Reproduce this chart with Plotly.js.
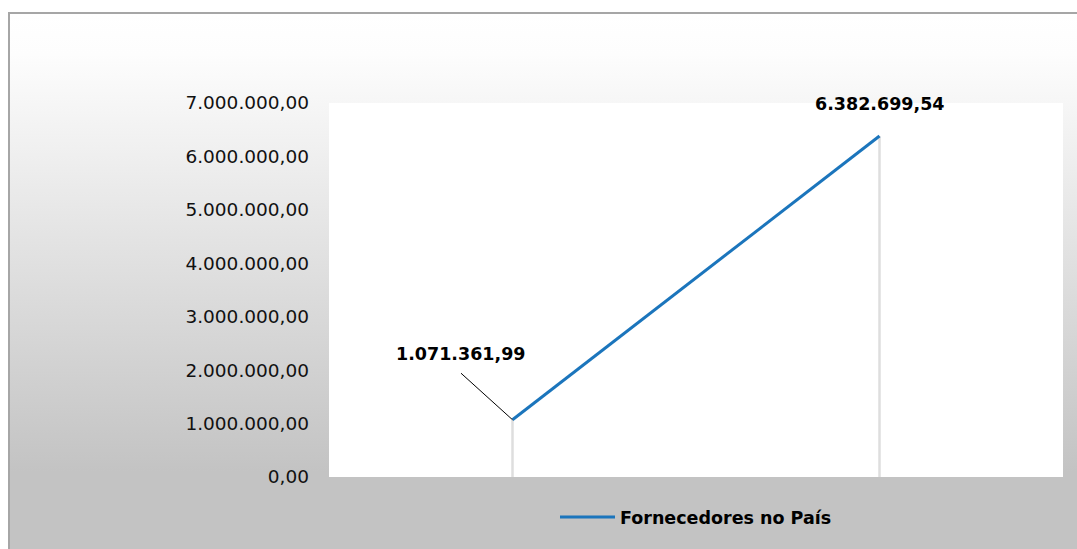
<!DOCTYPE html>
<html>
<head>
<meta charset="utf-8">
<script src="https://cdn.plot.ly/plotly-3.0.1.min.js"></script>
<style>
  html, body { margin: 0; padding: 0; background: #ffffff; }
  #wrap { position: relative; width: 1077px; height: 549px; overflow: hidden; background: #ffffff; }
  #bg { position: absolute; left: 8px; top: 12px; width: 1069px; height: 537px;
        border-left: 2px solid #a6a6a6; border-top: 2px solid #a6a6a6; box-sizing: border-box;
        background: linear-gradient(to bottom, #ffffff 0px, #fdfdfd 40px, #c3c3c3 458px, #c3c3c3 537px); }
  #chart { position: absolute; left: 0; top: 0; width: 1077px; height: 549px; }
</style>
</head>
<body>
<div id="wrap"><div id="bg"></div><div id="chart"></div></div>
<script>
// ---- data ----
const categories = ['Período 1', 'Período 2'];
const seriesName = 'Fornecedores no País';
const values = [1071361.99, 6382699.54];
const yTickValues = [0, 1000000, 2000000, 3000000, 4000000, 5000000, 6000000, 7000000];

function fmtBR(v) {
  const parts = v.toFixed(2).split('.');
  return parts[0].replace(/\B(?=(\d{3})+(?!\d))/g, '.') + ',' + parts[1];
}

const labelFont = { family: 'DejaVu Sans', size: 17.5, color: '#000000', weight: 700 };

const traces = [
  {
    // drop lines from each point to the axis
    x: categories, y: values, type: 'scatter', mode: 'markers',
    marker: { size: 1, opacity: 0 },
    error_y: { type: 'data', symmetric: false, array: values.map(() => 0), arrayminus: values,
               color: '#dedede', thickness: 2.5, width: 0 },
    showlegend: false, hoverinfo: 'skip'
  },
  {
    x: categories, y: values, type: 'scatter', mode: 'lines', name: seriesName,
    line: { color: '#1b75bc', width: 3 }
  }
];

const layout = {
  width: 1077, height: 549,
  margin: { l: 329, r: 14, t: 103, b: 72, pad: 0 },
  paper_bgcolor: 'rgba(0,0,0,0)',
  plot_bgcolor: '#ffffff',
  separators: ',.',
  showlegend: true,
  xaxis: {
    type: 'category', range: [-0.5, 1.5], showticklabels: false, showgrid: false,
    zeroline: false, showline: false, ticks: '', fixedrange: true
  },
  yaxis: {
    range: [0, 7000000], tickvals: yTickValues, ticktext: yTickValues.map(fmtBR),
    showgrid: false, zeroline: false, showline: false, ticks: '',
    ticklabelstandoff: 19,
    tickfont: { family: 'DejaVu Sans', size: 18.5, color: '#111111' }, fixedrange: true
  },
  legend: {
    orientation: 'h', x: 0.5, xanchor: 'center', y: -0.107, yanchor: 'middle',
    font: { family: 'DejaVu Sans', size: 17.5, color: '#000000', weight: 700 },
    bgcolor: 'rgba(0,0,0,0)', itemwidth: 55
  },
  annotations: [
    { x: categories[0], y: values[0], text: fmtBR(values[0]), showarrow: false,
      xshift: -52, yshift: 66, font: labelFont },
    { x: categories[0], y: values[0], text: ' ', showarrow: true, arrowhead: 0,
      arrowwidth: 1, arrowcolor: '#000000', ax: -52, ay: -47, borderpad: 0,
      font: { size: 1 } },
    { x: categories[1], y: values[1], text: fmtBR(values[1]), showarrow: false,
      yshift: 32, font: labelFont }
  ]
};

Plotly.newPlot('chart', traces, layout, { displayModeBar: false, staticPlot: true });
</script>
</body>
</html>
